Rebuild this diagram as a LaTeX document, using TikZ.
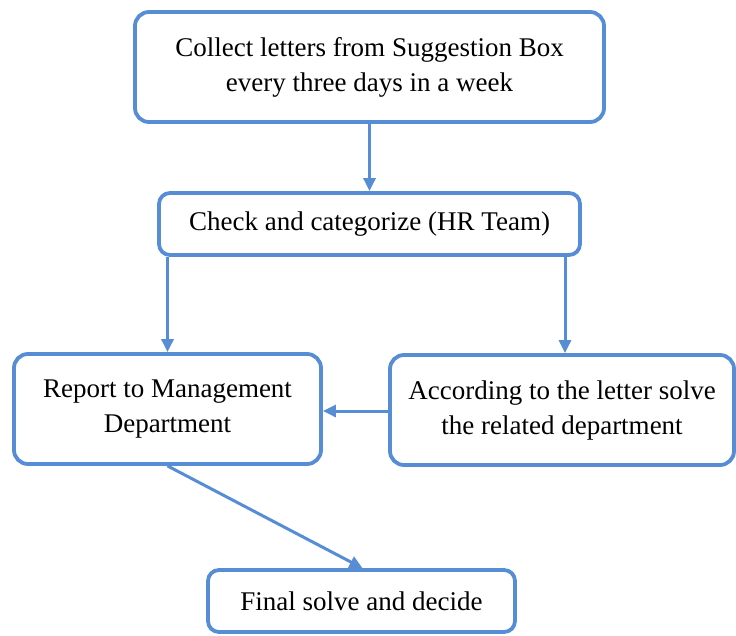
\documentclass[tikz,border=0pt]{standalone}
\usepackage{fontspec}
\setmainfont{Liberation Serif}
\usetikzlibrary{arrows.meta, positioning}

\definecolor{flowblue}{RGB}{86,141,212}

\begin{document}
\begin{tikzpicture}[x=1pt,y=1pt,
  box/.style={draw=flowblue,line width=3.8pt,rounded corners=14pt,align=center,
    font=\fontsize{27}{35}\selectfont,inner sep=0pt},
  flow/.style={draw=flowblue,line width=3pt,-{Triangle[length=13pt,width=12pt]}}]
\useasboundingbox (0,0) rectangle (736,-635);

\node[box,minimum width=469pt,minimum height=110pt] (collect) at (369.5,-67)
  {Collect letters from Suggestion Box\\every three days in a week};
\node[box,minimum width=421pt,minimum height=62pt,rounded corners=11pt] (check) at (369.5,-224)
  {Check and categorize (HR Team)};
\node[box,minimum width=307pt,minimum height=110pt] (report) at (167.5,-409)
  {Report to Management\\Department};
\node[box,minimum width=344pt,minimum height=110pt] (according) at (562,-410)
  {According to the letter solve\\the related department};
\node[box,minimum width=307pt,minimum height=62pt,rounded corners=11pt] (final) at (361.5,-601)
  {Final solve and decide};

\draw[flow] (collect) -- (check);
\draw[flow] (check.south -| report.north) -- (report.north);
\draw[flow] ([xshift=3pt]check.south -| according.north) -- ([xshift=3pt]according.north);
\draw[flow] ([yshift=-1pt]according.west) -- ([yshift=-1pt]according.west -| report.east);
\draw[flow] (report.south) -- ([xshift=1pt]final.north);
\end{tikzpicture}
\end{document}
